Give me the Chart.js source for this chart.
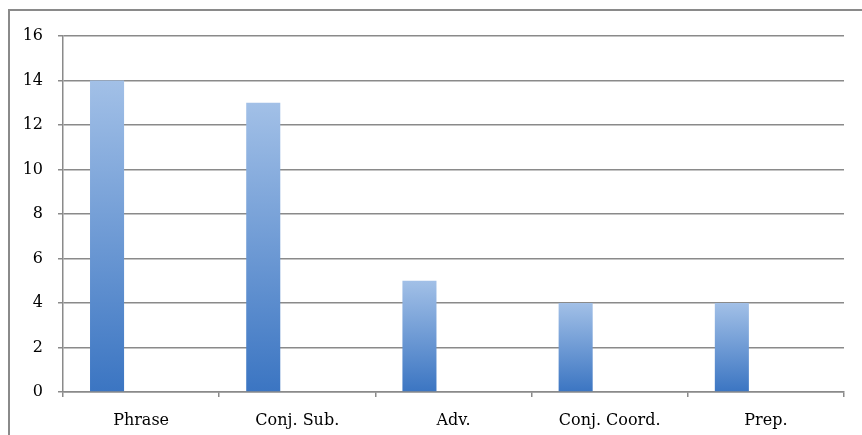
<!DOCTYPE html>
<html>
<head>
<meta charset="utf-8">
<script src="https://cdn.jsdelivr.net/npm/chart.js"></script>
<style>
  html, body { margin: 0; padding: 0; background: #fff; }
  #wrap { position: relative; width: 862px; height: 435px; overflow: hidden; }
  #frame { position: absolute; left: 8px; top: 9px; width: 900px; height: 500px;
           border-left: 2px solid #8a8a8a; border-top: 2px solid #8a8a8a; }
  #c { position: absolute; left: 0; top: 0; }
</style>
</head>
<body>
<div id="wrap">
  <div id="frame"></div>
  <canvas id="c" width="862" height="435"></canvas>
</div>
<script>
const categories = ["Phrase", "Conj. Sub.", "Adv.", "Conj. Coord.", "Prep."];
const values = [14, 13, 5, 4, 4];
const emptySeries = [null, null, null, null, null];
const yTicks = [0, 2, 4, 6, 8, 10, 12, 14, 16];

const FONT = { family: "'DejaVu Serif', serif", size: 16 };
const GRID = '#8a8a8a';

function barGradient(ctx) {
  const chart = ctx.chart;
  if (!chart.chartArea || ctx.parsed == null || ctx.parsed.y == null) return '#6a98d6';
  const y = chart.scales.y;
  const top = y.getPixelForValue(ctx.parsed.y);
  const base = y.getPixelForValue(0);
  if (!isFinite(top) || !isFinite(base) || top === base) return '#6a98d6';
  const g = chart.ctx.createLinearGradient(0, top, 0, base);
  g.addColorStop(0, '#a2c0e7');
  g.addColorStop(1, '#3b75c2');
  return g;
}

new Chart(document.getElementById('c'), {
  type: 'bar',
  data: {
    labels: categories,
    datasets: [
      { data: values, backgroundColor: barGradient, borderWidth: 0 },
      { data: emptySeries, backgroundColor: 'rgba(0,0,0,0)' },
      { data: emptySeries, backgroundColor: 'rgba(0,0,0,0)' }
    ]
  },
  options: {
    responsive: false,
    animation: false,
    devicePixelRatio: 1,
    categoryPercentage: 0.654,
    barPercentage: 1,
    layout: { padding: { left: 0, right: 18, top: 36, bottom: 0 } },
    plugins: { legend: { display: false }, tooltip: { enabled: false } },
    scales: {
      x: {
        grid: { display: true, drawOnChartArea: false, drawTicks: true, tickLength: 5, color: GRID, lineWidth: 1.5 },
        border: { display: true, color: GRID, width: 1.5 },
        ticks: { font: FONT, color: '#000', padding: 14, maxRotation: 0 },
        afterFit: s => { s.height = 43; }
      },
      y: {
        min: 0, max: 16,
        afterBuildTicks: s => { s.ticks = yTicks.map(v => ({ value: v })); },
        grid: { color: GRID, lineWidth: 1.5, tickLength: 5 },
        border: { display: true, color: GRID, width: 1.5 },
        ticks: { font: FONT, color: '#000', padding: 15 },
        afterFit: s => { s.width = 63; }
      }
    }
  }
});
</script>
</body>
</html>
